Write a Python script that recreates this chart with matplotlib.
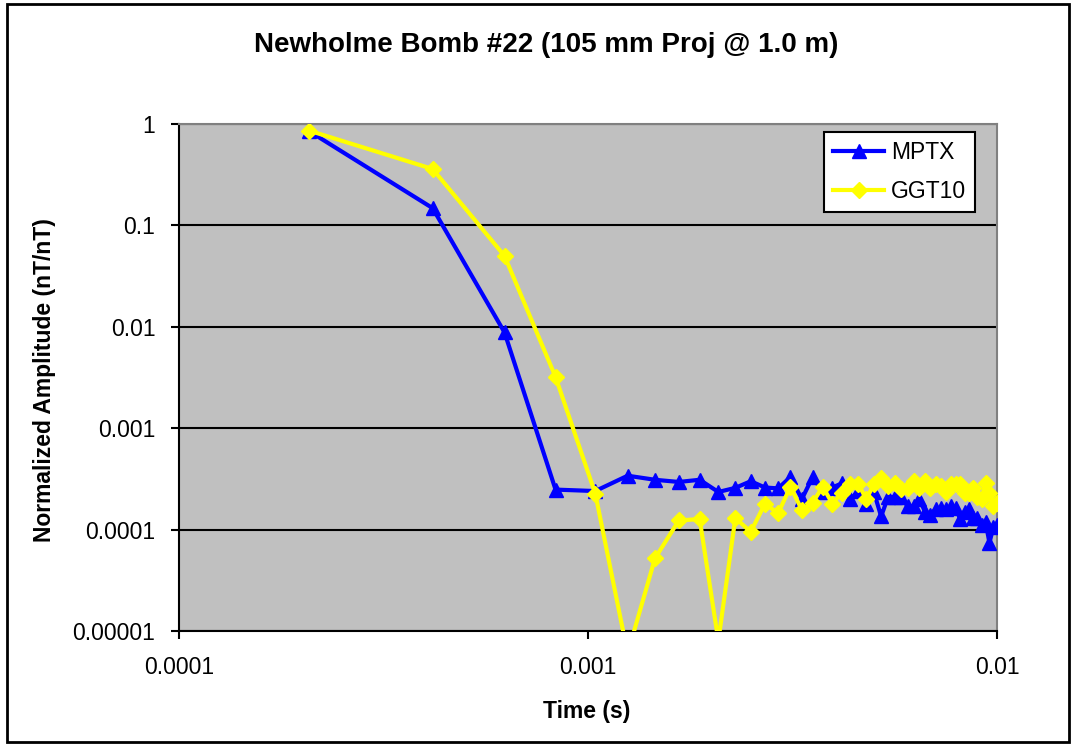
import matplotlib
matplotlib.use("Agg")
import matplotlib.pyplot as plt
from matplotlib.patches import Rectangle
from matplotlib.ticker import FixedLocator, FixedFormatter, NullLocator

plt.rcParams['font.family'] = ['Liberation Sans', 'DejaVu Sans']

# sample times (s)
time_s = [0.000208, 0.000417, 0.000625, 0.000833, 0.001042, 0.00125, 0.001458, 0.001667,
          0.001875, 0.002083, 0.002292, 0.0025, 0.002708, 0.002917, 0.003125, 0.003333,
          0.003542, 0.00375, 0.003958, 0.004167, 0.004375, 0.004583, 0.004792, 0.005,
          0.005208, 0.005417, 0.005625, 0.005833, 0.006042, 0.00625, 0.006458, 0.006667,
          0.006875, 0.007083, 0.007292, 0.0075, 0.007708, 0.007917, 0.008125, 0.008333,
          0.008542, 0.00875, 0.008958, 0.009167, 0.009375, 0.009583, 0.009792, 0.01]

mptx = [0.85, 0.148, 0.0088, 2.48e-4, 2.4e-4, 3.4e-4, 3.1e-4, 2.95e-4,
        3.1e-4, 2.35e-4, 2.58e-4, 3.0e-4, 2.6e-4, 2.55e-4, 3.3e-4, 2.0e-4,
        3.3e-4, 2.35e-4, 2.6e-4, 2.85e-4, 2.0e-4, 2.4e-4, 1.8e-4, 2.35e-4,
        1.35e-4, 2.1e-4, 2.1e-4, 2.1e-4, 1.7e-4, 1.7e-4, 2.0e-4, 1.5e-4,
        1.4e-4, 1.6e-4, 1.65e-4, 1.6e-4, 1.7e-4, 1.65e-4, 1.27e-4, 1.5e-4,
        1.6e-4, 1.3e-4, 1.3e-4, 1.1e-4, 1.2e-4, 7.4e-5, 1.05e-4, 1.1e-4]

ggt10 = [0.86, 0.36, 0.05, 0.0032, 2.26e-4, 6e-6, 5.2e-5, 1.23e-4,
         1.27e-4, 8e-6, 1.3e-4, 9.5e-5, 1.8e-4, 1.45e-4, 2.65e-4, 1.57e-4,
         1.85e-4, 2.65e-4, 1.8e-4, 2.3e-4, 2.8e-4, 2.8e-4, 2.0e-4, 2.8e-4,
         3.2e-4, 2.7e-4, 2.9e-4, 2.5e-4, 2.6e-4, 3.0e-4, 2.6e-4, 3.0e-4,
         2.6e-4, 2.8e-4, 2.7e-4, 2.35e-4, 2.8e-4, 2.8e-4, 2.8e-4, 2.3e-4,
         2.3e-4, 2.6e-4, 2.1e-4, 2.0e-4, 2.9e-4, 2.3e-4, 1.7e-4, 1.85e-4]

x_ticks = [0.0001, 0.001, 0.01]
x_labels = ['0.0001', '0.001', '0.01']
y_ticks = [0.00001, 0.0001, 0.001, 0.01, 0.1, 1]
y_labels = ['0.00001', '0.0001', '0.001', '0.01', '0.1', '1']

fig = plt.figure(figsize=(10.76, 7.46), dpi=100)
ax = fig.add_axes([179 / 1076, 1 - 631 / 746, 818 / 1076, 507 / 746])
ax.set_facecolor('#C0C0C0')

ax.plot(time_s, mptx, color='#0000FF', lw=3, marker='^', ms=10, label='MPTX', zorder=3)
ax.plot(time_s, ggt10, color='#FFFF00', lw=3, marker='D', ms=8.5, label='GGT10', zorder=3)

ax.set_xscale('log')
ax.set_yscale('log')
ax.set_xlim(0.0001, 0.01)
ax.set_ylim(0.00001, 1)

ax.xaxis.set_major_locator(FixedLocator(x_ticks))
ax.xaxis.set_major_formatter(FixedFormatter(x_labels))
ax.yaxis.set_major_locator(FixedLocator(y_ticks))
ax.yaxis.set_major_formatter(FixedFormatter(y_labels))
ax.xaxis.set_minor_locator(NullLocator())
ax.yaxis.set_minor_locator(NullLocator())

ax.grid(axis='y', color='black', lw=1.5, zorder=1)
ax.set_axisbelow(True)
ax.tick_params(axis='both', direction='out', length=6, width=1.5, labelsize=16.5, color='black')
ax.tick_params(axis='y', pad=11)
ax.tick_params(axis='x', pad=12)

for side in ['left', 'bottom']:
    ax.spines[side].set_color('black')
    ax.spines[side].set_linewidth(1.5)
for side in ['top', 'right']:
    ax.spines[side].set_color('#808080')
    ax.spines[side].set_linewidth(1.5)

fig.text(0.508, 0.94, 'Newholme Bomb #22 (105 mm Proj @ 1.0 m)', ha='center', va='center',
         fontsize=20, fontweight='bold')
fig.text(0.5455, 0.0456, 'Time (s)', ha='center', va='center', fontsize=16.5, fontweight='bold')
fig.text(0.041, 0.49, 'Normalized Amplitude (nT/nT)', ha='center', va='center',
         rotation=90, fontsize=16.5, fontweight='bold')

leg = ax.legend(loc='upper right', bbox_to_anchor=(975 / 1076, 1 - 132 / 746),
                bbox_transform=fig.transFigure, fontsize=16.5, fancybox=False,
                framealpha=1, edgecolor='black', borderpad=0.4, handlelength=2.2,
                labelspacing=0.7, handletextpad=0.3, borderaxespad=0)
leg.get_frame().set_linewidth(1.5)

# outer chart border
fig.patches.append(Rectangle((7 / 1076, 4 / 746), 1062 / 1076, 738 / 746,
                             transform=fig.transFigure, fill=False, edgecolor='black', lw=2))

fig.savefig('out.png', dpi=100)
